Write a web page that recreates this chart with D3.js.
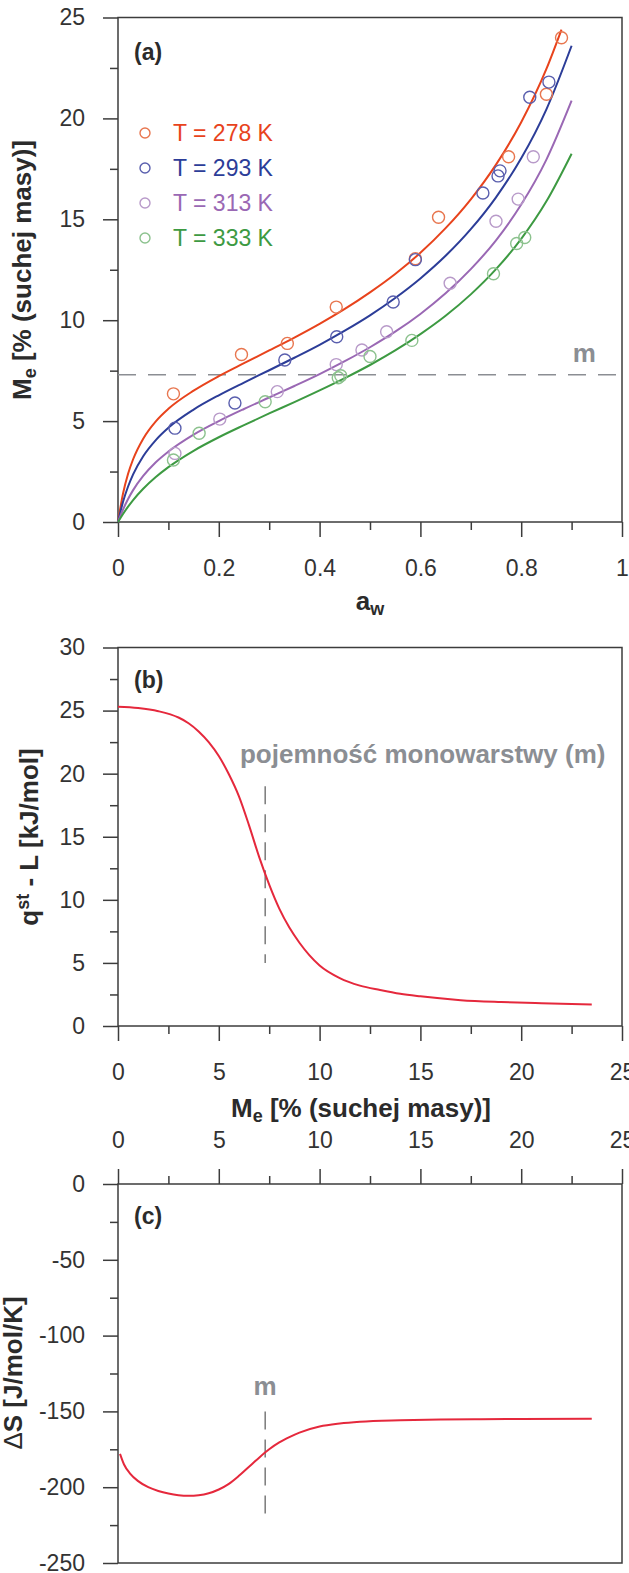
<!DOCTYPE html>
<html>
<head>
<meta charset="utf-8">
<script src="https://cdn.jsdelivr.net/npm/d3@7/dist/d3.min.js"></script>
<style>
  body { margin: 0; background: #fff; }
  svg { display: block; }
</style>
</head>
<body>
<div id="chart"></div>
<script>
// ---- (a) sorption isotherms ----
var tempLabels = ["T = 278 K", "T = 293 K", "T = 313 K", "T = 333 K"];
var fitAw = [0, 0.01, 0.02, 0.03, 0.05, 0.075, 0.1, 0.15, 0.2, 0.25, 0.3, 0.35,
             0.4, 0.45, 0.5, 0.55, 0.6, 0.65, 0.7, 0.75, 0.8, 0.85];
var fitEndAw = [0.88, 0.9, 0.9, 0.9];
var fit278 = [0, 1.41, 2.39, 3.11, 4.13, 4.99, 5.61, 6.51, 7.23, 7.87, 8.50, 9.14,
              9.82, 10.56, 11.38, 12.29, 13.34, 14.56, 15.99, 17.71, 19.81, 22.45, 24.4];
var fit293 = [0, 1.00, 1.76, 2.36, 3.26, 4.06, 4.67, 5.57, 6.28, 6.91, 7.52, 8.14,
              8.78, 9.48, 10.24, 11.10, 12.07, 13.19, 14.51, 16.09, 18.02, 20.45, 23.6];
var fit313 = [0, 0.62, 1.14, 1.58, 2.28, 2.96, 3.49, 4.33, 5.00, 5.60, 6.17, 6.74,
              7.33, 7.97, 8.66, 9.43, 10.31, 11.33, 12.53, 13.96, 15.73, 17.96, 20.88];
var fit333 = [0, 0.40, 0.76, 1.09, 1.65, 2.23, 2.72, 3.53, 4.20, 4.80, 5.38, 5.94,
              6.52, 7.13, 7.78, 8.50, 9.31, 10.22, 11.28, 12.53, 14.03, 15.89, 18.25];

var pts278 = [[0.11, 6.35], [0.245, 8.3], [0.336, 8.85], [0.433, 10.65], [0.59, 13.05],
              [0.636, 15.1], [0.775, 18.1], [0.85, 21.2], [0.88, 24.0]];
var pts293 = [[0.113, 4.65], [0.232, 5.9], [0.331, 8.03], [0.434, 9.18], [0.546, 10.9],
              [0.59, 13.0], [0.724, 16.3], [0.754, 17.15], [0.758, 17.4], [0.817, 21.05], [0.855, 21.8]];
var pts313 = [[0.113, 3.4], [0.202, 5.1], [0.316, 6.46], [0.433, 7.8], [0.484, 8.52],
              [0.533, 9.43], [0.659, 11.83], [0.75, 14.9], [0.794, 16.0], [0.824, 18.1]];
var pts333 = [[0.11, 3.07], [0.161, 4.4], [0.292, 5.96], [0.437, 7.15], [0.442, 7.25],
              [0.5, 8.2], [0.583, 9.0], [0.745, 12.3], [0.791, 13.8], [0.807, 14.1]];

var awTicks = [0, 0.2, 0.4, 0.6, 0.8, 1];
var awMinor = [0.1, 0.3, 0.5, 0.7, 0.9];
var meTicksA = [0, 5, 10, 15, 20, 25];
var meMinorA = [2.5, 7.5, 12.5, 17.5, 22.5];
var monolayer = 7.3;

// ---- (b) net isosteric heat ----
var heatMe = [0, 1, 2, 3, 3.5, 4, 4.5, 5, 5.5, 6, 6.5, 7, 7.5, 8, 8.5, 9, 9.5, 10,
              11, 12, 13, 14, 15, 17, 19, 21, 23.5];
var heatQ = [25.3, 25.2, 24.95, 24.45, 24.0, 23.35, 22.5, 21.4, 19.95, 18.2, 15.9, 13.4,
             11.2, 9.3, 7.8, 6.6, 5.6, 4.8, 3.8, 3.2, 2.85, 2.55, 2.35, 2.05, 1.9, 1.8, 1.7];
var heatTicks = [0, 5, 10, 15, 20, 25, 30];
var heatMinor = [2.5, 7.5, 12.5, 17.5, 22.5, 27.5];
var heatMarkRange = [5, 19];

// ---- (c) differential entropy ----
var entMe = [0.1, 0.3, 0.6, 1, 1.5, 2, 2.5, 3, 3.5, 4, 4.5, 5, 5.5, 6, 6.5, 7, 7.5, 8, 8.5, 9,
             10, 11, 12, 14, 16, 18, 20, 23.5];
var entS = [-178, -185, -191, -196, -200, -202.5, -204.2, -205.3, -205.7, -205.3, -204, -201.5,
            -197.8, -192.5, -186.5, -180.5, -175, -170.5, -167, -164, -160, -158, -156.8,
            -155.8, -155.3, -155.1, -155, -154.8];
var entTicks = [0, -50, -100, -150, -200, -250];
var entMinor = [-25, -75, -125, -175, -225];
var entMarkRange = [-219, -150];

var meTicks = [0, 5, 10, 15, 20, 25];
var meMinor = [2.5, 7.5, 12.5, 17.5, 22.5];

(function () {
  "use strict";

  var width = 629,
      height = 1573,
      left = 118,
      right = 622;

  var font = "'Liberation Sans', Arial, Helvetica, sans-serif",
      axisColor = "#3c3c3c",
      textColor = "#333",
      grey = "#8b8e93",
      curveRed = "#e5283c";

  var lineColors = ["#e8431c", "#2c3d98", "#9a68b4", "#3d9a42"],
      dotColors = ["#e8764f", "#5a5fae", "#b89ac9", "#8cc28e"],
      fits = [fit278, fit293, fit313, fit333],
      pts = [pts278, pts293, pts313, pts333];

  // plain hyphen for negatives, like the original
  var plain = function (d) { return String(d); };

  var svg = d3.select("#chart").append("svg")
      .attr("width", width)
      .attr("height", height)
      .style("font-family", font);

  function styleAxis(g) {
    g.attr("color", axisColor).attr("font-family", font).attr("font-size", 23);
    g.selectAll("line").attr("stroke-width", 1.5);
    g.selectAll("text").attr("fill", textColor);
    g.select(".domain").remove();
  }

  function frame(top, bottom) {
    svg.append("rect")
      .attr("x", left)
      .attr("y", top)
      .attr("width", right - left)
      .attr("height", bottom - top)
      .attr("fill", "none")
      .attr("stroke", axisColor)
      .attr("stroke-width", 1.5);
  }

  function leftAxis(y, major, minor) {
    svg.append("g").attr("transform", "translate(" + left + ",0)")
      .call(d3.axisLeft(y).tickValues(minor).tickSize(8).tickFormat(""))
      .call(styleAxis);
    svg.append("g").attr("transform", "translate(" + left + ",0)")
      .call(d3.axisLeft(y).tickValues(major).tickSize(15).tickPadding(18).tickFormat(plain))
      .call(styleAxis);
  }

  function bottomAxis(x, at, major, minor) {
    svg.append("g").attr("transform", "translate(0," + at + ")")
      .call(d3.axisBottom(x).tickValues(minor).tickSize(8).tickFormat(""))
      .call(styleAxis);
    svg.append("g").attr("transform", "translate(0," + at + ")")
      .call(d3.axisBottom(x).tickValues(major).tickSize(15).tickPadding(23).tickFormat(plain))
      .call(styleAxis);
  }

  function topAxis(x, at, major, minor) {
    svg.append("g").attr("transform", "translate(0," + at + ")")
      .call(d3.axisTop(x).tickValues(minor).tickSize(8).tickFormat(""))
      .call(styleAxis);
    svg.append("g").attr("transform", "translate(0," + at + ")")
      .call(d3.axisTop(x).tickValues(major).tickSize(15).tickPadding(21).tickFormat(plain))
      .call(styleAxis);
  }

  function panelLabel(txt, y) {
    svg.append("text")
      .attr("x", 134)
      .attr("y", y)
      .attr("font-size", 23)
      .attr("font-weight", "bold")
      .attr("fill", "#2b2b2b")
      .text(txt);
  }

  // rotated y title; parts = [[text, kind]] with kind "", "sub", "sup", "sym"
  function yTitle(parts, x, y) {
    var t = svg.append("text")
      .attr("transform", "translate(" + x + "," + y + ") rotate(-90)")
      .attr("text-anchor", "middle")
      .attr("font-size", 26)
      .attr("font-weight", "bold")
      .attr("fill", "#2b2b2b");
    addParts(t, parts);
  }

  function addParts(t, parts) {
    parts.forEach(function (p) {
      var s = t.append("tspan").text(p[0]);
      if (p[1] === "sub") s.attr("font-size", 18).attr("baseline-shift", "-5");
      if (p[1] === "sup") s.attr("font-size", 18).attr("baseline-shift", "9");
      if (p[1] === "sym") s.attr("font-weight", "normal");
      if (p[1] === "back") s.attr("baseline-shift", "0");
    });
  }

  //PANEL A
  var xA = d3.scaleLinear().domain([0, 1]).range([left, right]);
  var yA = d3.scaleLinear().domain([0, 25]).range([522, 17.5]);

  frame(17.5, 522);
  leftAxis(yA, meTicksA, meMinorA);
  bottomAxis(xA, 522, awTicks, awMinor);

  svg.append("line")
    .attr("x1", xA(0)).attr("x2", xA(1))
    .attr("y1", yA(monolayer)).attr("y2", yA(monolayer))
    .attr("stroke", grey)
    .attr("stroke-width", 1.5)
    .attr("stroke-dasharray", "18,12");

  svg.append("text")
    .attr("x", xA(0.925))
    .attr("y", yA(monolayer) - 13)
    .attr("text-anchor", "middle")
    .attr("font-size", 26)
    .attr("font-weight", "bold")
    .attr("fill", grey)
    .text("m");

  var lineA = d3.line()
    .x(function (d) { return xA(d[0]); })
    .y(function (d) { return yA(d[1]); })
    .curve(d3.curveMonotoneX);

  fits.forEach(function (vals, i) {
    var xs = fitAw.concat([fitEndAw[i]]);
    var data = vals.map(function (v, j) { return [xs[j], v]; });
    svg.append("path")
      .datum(data)
      .attr("fill", "none")
      .attr("stroke", lineColors[i])
      .attr("stroke-width", 2)
      .attr("d", lineA);
  });

  pts.forEach(function (set, i) {
    svg.append("g").selectAll("circle")
      .data(set)
      .enter().append("circle")
      .attr("cx", function (d) { return xA(d[0]); })
      .attr("cy", function (d) { return yA(d[1]); })
      .attr("r", 6)
      .attr("fill", "none")
      .attr("stroke", dotColors[i])
      .attr("stroke-width", 1.4);
  });

  // legend
  var legend = svg.append("g");
  tempLabels.forEach(function (lab, i) {
    var ly = 133 + i * 35;
    legend.append("circle")
      .attr("cx", 145).attr("cy", ly).attr("r", 5)
      .attr("fill", "none")
      .attr("stroke", dotColors[i])
      .attr("stroke-width", 1.4);
    legend.append("text")
      .attr("x", 173).attr("y", ly)
      .attr("dy", "0.36em")
      .attr("font-size", 23)
      .attr("fill", lineColors[i])
      .text(lab);
  });

  panelLabel("(a)", 60);

  var awTitle = svg.append("text")
    .attr("x", 370).attr("y", 610)
    .attr("text-anchor", "middle")
    .attr("font-size", 26)
    .attr("font-weight", "bold")
    .attr("fill", "#2b2b2b");
  addParts(awTitle, [["a", ""], ["w", "sub"]]);

  yTitle([["M", ""], ["e", "sub"], [" [% (suchej masy)]", "back"]], 31, 270);

  //PANEL B
  var xB = d3.scaleLinear().domain([0, 25]).range([left, right]);
  var yB = d3.scaleLinear().domain([0, 30]).range([1026, 647.5]);

  frame(647.5, 1026);
  leftAxis(yB, heatTicks, heatMinor);
  bottomAxis(xB, 1026, meTicks, meMinor);

  svg.append("line")
    .attr("x1", xB(monolayer)).attr("x2", xB(monolayer))
    .attr("y1", yB(heatMarkRange[1])).attr("y2", yB(heatMarkRange[0]))
    .attr("stroke", "#666")
    .attr("stroke-width", 1.3)
    .attr("stroke-dasharray", "18,10");

  svg.append("text")
    .attr("x", xB(6.05))
    .attr("y", 763)
    .attr("font-size", 26)
    .attr("font-weight", "bold")
    .attr("fill", grey)
    .text("pojemność monowarstwy (m)");

  var lineB = d3.line()
    .x(function (d, i) { return xB(heatMe[i]); })
    .y(function (d) { return yB(d); })
    .curve(d3.curveMonotoneX);

  svg.append("path")
    .datum(heatQ)
    .attr("fill", "none")
    .attr("stroke", curveRed)
    .attr("stroke-width", 2)
    .attr("d", lineB);

  panelLabel("(b)", 688);
  yTitle([["q", ""], ["st", "sup"], [" - L [kJ/mol]", "back"]], 38, 837);

  var meTitle = svg.append("text")
    .attr("x", 361).attr("y", 1117)
    .attr("text-anchor", "middle")
    .attr("font-size", 26)
    .attr("font-weight", "bold")
    .attr("fill", "#2b2b2b");
  addParts(meTitle, [["M", ""], ["e", "sub"], [" [% (suchej masy)]", "back"]]);

  //PANEL C
  var xC = d3.scaleLinear().domain([0, 25]).range([left, right]);
  var yC = d3.scaleLinear().domain([-250, 0]).range([1563, 1184]);

  frame(1184, 1563);
  leftAxis(yC, entTicks, entMinor);
  topAxis(xC, 1184, meTicks, meMinor);

  svg.append("line")
    .attr("x1", xC(monolayer)).attr("x2", xC(monolayer))
    .attr("y1", yC(entMarkRange[1])).attr("y2", yC(entMarkRange[0]))
    .attr("stroke", "#666")
    .attr("stroke-width", 1.3)
    .attr("stroke-dasharray", "18,10");

  svg.append("text")
    .attr("x", xC(monolayer))
    .attr("y", 1395)
    .attr("text-anchor", "middle")
    .attr("font-size", 26)
    .attr("font-weight", "bold")
    .attr("fill", grey)
    .text("m");

  var lineC = d3.line()
    .x(function (d, i) { return xC(entMe[i]); })
    .y(function (d) { return yC(d); })
    .curve(d3.curveMonotoneX);

  svg.append("path")
    .datum(entS)
    .attr("fill", "none")
    .attr("stroke", curveRed)
    .attr("stroke-width", 2)
    .attr("d", lineC);

  panelLabel("(c)", 1224);
  yTitle([["Δ", "sym"], ["S [J/mol/K]", ""]], 22, 1373);

})();
</script>
</body>
</html>
